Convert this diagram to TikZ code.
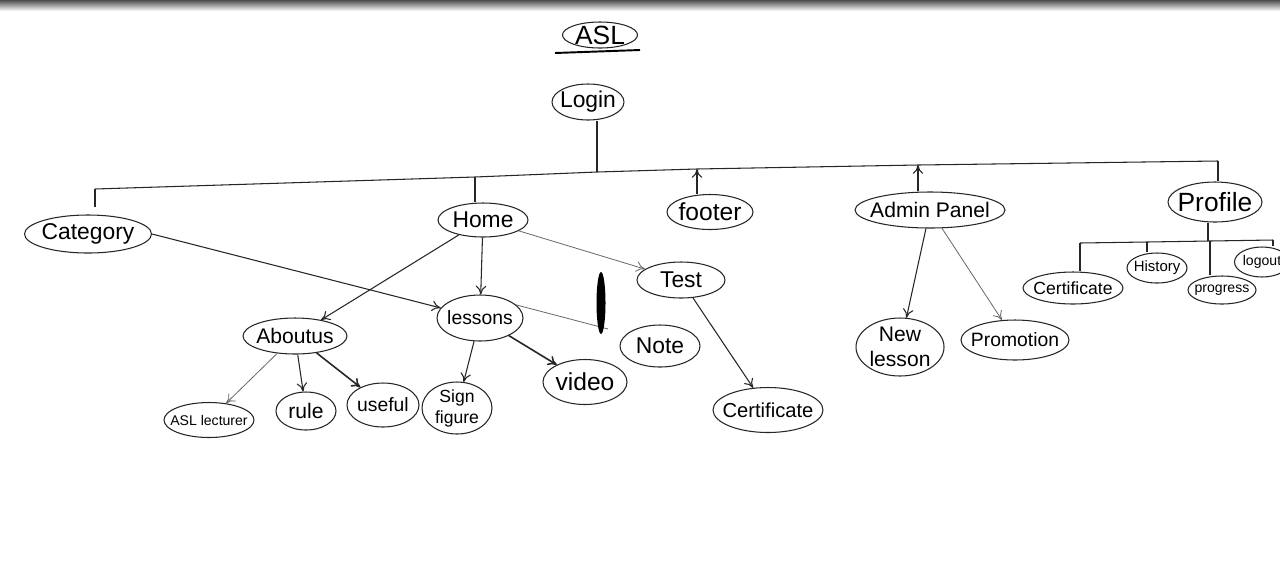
\documentclass[tikz,border=0pt]{standalone}
\usepackage{fontspec}
\setmainfont{Liberation Sans}
\usetikzlibrary{shapes.geometric,arrows.meta}
\begin{document}
\begin{tikzpicture}[x=0.02cm,y=-0.02cm,
  bub/.style={ellipse,draw=black!85,line width=0.6pt,inner xsep=-6pt,inner ysep=-3pt,align=center},
  sz/.style 2 args={minimum width=#1*0.02cm,minimum height=#2*0.02cm},
  fs/.style={font=\fontsize{#1}{#1}\selectfont},
  con/.style={draw=black!85,line width=0.6pt},
  thin/.style={draw=black!60,line width=0.45pt},
  arr/.style={-{To[length=5pt,width=6pt]}},
]
\useasboundingbox (0,0) rectangle (1280,586);
\fill[white] (0,0) rectangle (1280,586);
\shade[top color=black!70,bottom color=white] (0,0) rectangle (1280,11);

% title
\node[bub,sz={75}{26},fs=15] (asl) at (600,35) {ASL};
\coordinate (u1) at (555,53);
\coordinate (u2) at (640,50);
\draw[line width=1.1pt] (u1) -- (u2);

% level 0
\node[bub,sz={72}{36},fs=13] (login) at (588,102) {Login};

% main bar
\coordinate (bL) at (95,189);
\coordinate (bH) at (475,177);
\coordinate (bC) at (597,172);
\coordinate (bF) at (697,169);
\coordinate (bA) at (918,165);
\coordinate (bP) at (1218,161);
\draw[con] (bL) -- (bH) -- (bC) -- (bF) -- (bA) -- (bP);
\draw[con] (login.south -| bC) -- (bC);

% level 1
\node[bub,sz={127}{38},fs=13] (cat) at (88,234) {Category};
\node[bub,sz={90}{34},fs=13] (home) at (483,220) {Home};
\node[bub,sz={86}{35},fs=14] (foot) at (710,212) {footer};
\node[bub,sz={150}{36},fs=12] (adm) at (930,210) {Admin Panel};
\node[bub,sz={94}{40},fs=15] (prof) at (1215,202) {Profile};

\draw[con,line width=1.3pt,shorten <=4pt] (cat.north -| bL) -- (bL);
\draw[con] (home.north -| bH) -- (bH);
\draw[con,arr] (foot.north -| bF) -- (bF);
\draw[con,arr] (adm.north -| bA) -- (bA);
\draw[con] (prof.north -| bP) -- (bP);

% home subtree
\node[bub,sz={104}{36},fs=12] (about) at (295,336) {Aboutus};
\node[bub,sz={86}{46},fs=11] (les) at (480,318) {lessons};
\node[bub,sz={88}{36},fs=13] (test) at (681,280) {Test};
\node[bub,sz={80}{42},fs=13] (note) at (660,346) {Note};
\node[bub,sz={84}{45},fs=14] (video) at (585,382) {video};
\node[bub,sz={70}{52},font=\fontsize{10}{12}\selectfont] (sign) at (457,408) {Sign\\figure};
\node[bub,sz={110}{45},fs=11.5] (tcert) at (768,410) {Certificate};
\node[bub,sz={90}{35},fs=8] (lect) at (209,420) {ASL lecturer};
\node[bub,sz={60}{38},fs=12] (rule) at (306,411) {rule};
\node[bub,sz={72}{44},fs=11] (useful) at (383,405) {useful};

\draw[con,arr] (home) -- (about);
\draw[con,arr] (home) -- (les);
\draw[thin,arr] (home) -- (test);
\draw[con,arr] (cat.east) -- (les);
\draw[thin,shorten >=11pt] (les.20) -- (note.160);
\draw[con,arr] (les) -- (sign);
\draw[con,line width=0.9pt,arr] (les) -- (video);
\draw[con,arr] (test) -- (tcert);
\draw[thin,arr] (about) -- (lect);
\draw[con,arr] (about) -- (rule);
\draw[con,line width=0.9pt,arr] (about) -- (useful);

% ink mark
\fill[black] (601,303) ellipse [x radius=0.09cm, y radius=0.62cm];

% admin subtree
\node[bub,sz={88}{58},font=\fontsize{12}{14}\selectfont] (newl) at (900,347) {New\\lesson};
\node[bub,sz={108}{40},fs=11] (promo) at (1015,340) {Promotion};
\draw[con,arr] (adm) -- (newl);
\draw[thin,arr] (adm) -- (promo);

% profile subtree
\node[bub,sz={100}{32},fs=10] (pcert) at (1073,288) {Certificate};
\node[bub,sz={60}{30},fs=8.5] (hist) at (1157,268) {History};
\node[bub,sz={68}{28},fs=8] (prog) at (1222,290) {progress};
\node[bub,sz={55}{30},fs=8] (logout) at (1262,262) {logout};

\coordinate (pb) at (1208,241);
\coordinate (p1) at (1080,243);
\coordinate (p2) at (1147,242);
\coordinate (p3) at (1210,241);
\coordinate (p4) at (1273,240);
\draw[con] (prof.south -| pb) -- (pb);
\draw[con] (p1) -- (p2) -- (p3) -- (p4);
\draw[con] (p1) -- (pcert.north -| p1);
\draw[con] (p2) -- (hist.north -| p2);
\draw[con] (p3) -- (prog.north -| p3);
\draw[con] (p4) -- (logout.north -| p4);
\end{tikzpicture}
\end{document}
